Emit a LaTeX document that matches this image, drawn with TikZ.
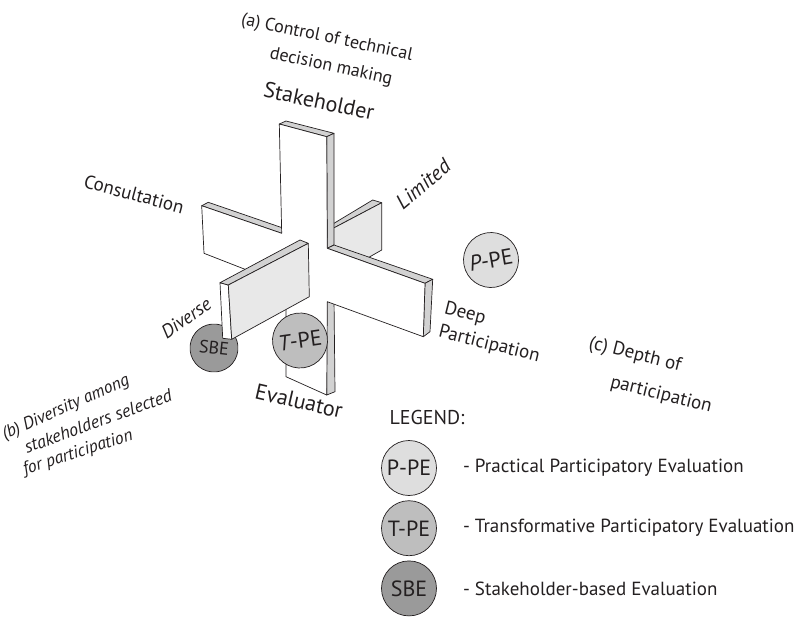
\documentclass[tikz,border=0pt]{standalone}
\usepackage{fontspec}
\setmainfont{PT Sans}
\usetikzlibrary{positioning}

\definecolor{ppefill}{HTML}{DEDEDE}
\definecolor{tpefill}{HTML}{BEBEBE}
\definecolor{sbefill}{HTML}{9A9A9A}
\definecolor{inkgray}{HTML}{231F20}

\tikzset{
  face/.style={draw=inkgray, line width=0.7pt, fill=white},
  edgeface/.style={face, fill=gray!35},
  sideface/.style={face, fill=gray!18},
  axislbl/.style={font=\fontsize{19}{24}\selectfont, text=inkgray, inner sep=0pt},
  axisit/.style={axislbl, font=\fontsize{19}{24}\selectfont\itshape},
  notelbl/.style={axislbl, font=\fontsize{17.5}{22}\selectfont\itshape},
  evalcirc/.style={circle, draw=inkgray, line width=0.7pt, inner sep=0pt,
    minimum size=55pt, text=inkgray, font=\fontsize{22}{24}\selectfont},
  legtext/.style={font=\fontsize{19}{22}\selectfont, text=inkgray, inner sep=0pt}
}

\begin{document}
\begin{tikzpicture}[x=1pt,y=-1pt,line cap=round,line join=round]
  \useasboundingbox (0,0) rectangle (797,630);

  %--- Limited plank, behind the cross -------------------------------------
  \draw[edgeface] (328,226.9) -- (372.7,200) -- (381.7,202.7) -- (328,231) -- cycle;
  \draw[sideface] (328,231) -- (381.7,202.7) -- (381.7,250) -- (328,280.6) -- cycle;

  %--- Cross: thickness faces ----------------------------------------------
  \draw[edgeface] (279.3,124) -- (286,121) -- (334,133.3) -- (326.7,136.7) -- cycle;
  \draw[edgeface] (326.7,136.7) -- (334,133.3) -- (334,245) -- (327.3,248.3) -- cycle;
  \draw[edgeface] (201.7,205.7) -- (208.3,202.3) -- (288.7,230) -- (281.7,233.3) -- cycle;
  \draw[edgeface] (327.3,248.3) -- (334,245) -- (432.7,279.3) -- (425,283.3) -- cycle;
  \draw[edgeface] (425,283.3) -- (432.7,279.3) -- (430,331.7) -- (423.3,336.7) -- cycle;
  \draw[edgeface] (326.7,301.7) -- (334,298) -- (335,391.7) -- (326.7,395) -- cycle;

  %--- Cross: front face ---------------------------------------------------
  \draw[face] (279.3,124) -- (326.7,136.7) -- (327.3,248.3) -- (425,283.3)
    -- (423.3,336.7) -- (327.3,301.7) -- (326.7,395) -- (286,376.7)
    -- (286,285.3) -- (204,253.3) -- (201.7,205.7) -- (281.7,233.3) -- cycle;

  %--- SBE sits behind the diverse plank -----------------------------------
  \node[evalcirc, fill=sbefill, minimum size=48pt, rotate=-6,
    font=\fontsize{18}{22}\selectfont] (sbe) at (214,348) {SBE};

  %--- Diverse plank, in front of the cross --------------------------------
  \draw[face] (220,282.7) -- (228.3,285) -- (231.7,339.3) -- (222.7,338.3) -- cycle;
  \draw[edgeface] (220,282.7) -- (300,240) -- (308.3,243.3) -- (228.3,285) -- cycle;
  \draw[sideface] (228.3,285) -- (308.3,243.3) -- (309.3,296.7) -- (231.7,339.3) -- cycle;

  %--- Other evaluation types ----------------------------------------------
  \node[evalcirc, fill=tpefill, rotate=8] (tpe) at (300,340.5) {{\itshape T}-PE};
  \node[evalcirc, fill=ppefill, rotate=10] (ppe) at (491,260) {{\itshape P}-PE};

  %--- Axis labels ---------------------------------------------------------
  \node[axislbl, font=\fontsize{18}{22}\selectfont, rotate=-12] (ctrl) at (327,38)
    {(a) Control of technical};
  \node[axislbl, font=\fontsize{18}{22}\selectfont, rotate=-12] (ctrlb) at (331,67)
    {decision making};
  \node[axislbl, font=\fontsize{22}{24}\selectfont, rotate=-12] (stake) at (319,101) {Stakeholder};
  \node[axislbl, rotate=-15] (consult) at (134,194) {Consultation};
  \node[axisit, font=\fontsize{21}{24}\selectfont\itshape, rotate=40] (limited) at (423,184) {Limited};
  \node[axislbl, rotate=-14, align=left] (deep) at (492,333) {Deep\\Participation};
  \node[axislbl, rotate=-14] (depth) at (635,355) {(c) Depth of};
  \node[axislbl, rotate=-14] (depthb) at (661,395) {participation};
  \node[axislbl, font=\fontsize{22}{24}\selectfont, rotate=-13] (eval) at (299,401) {Evaluator};
  \node[axisit, rotate=35] (diverse) at (186,318) {Diverse};
  \node[notelbl, rotate=24] (diversity) at (66,408) {(b) Diversity among};
  \node[notelbl, font=\fontsize{18}{22}\selectfont\itshape, rotate=20] (diversityb) at (98,421)
    {stakeholders selected};
  \node[notelbl, rotate=18] (diversityc) at (78,453) {for participation};

  %--- Legend --------------------------------------------------------------
  \node[legtext, font=\fontsize{20}{22}\selectfont] (legend) at (427,417) {LEGEND:};
  \node[evalcirc, fill=ppefill] (lppe) at (409,468) {P-PE};
  \node[evalcirc, fill=tpefill, below=4.5pt of lppe] (ltpe) {T-PE};
  \node[evalcirc, fill=sbefill, below=4.5pt of ltpe] (lsbe) {SBE};
  \node[legtext, right=26pt of lppe] (lppetxt) {- Practical Participatory Evaluation};
  \node[legtext, right=26pt of ltpe] (ltpetxt) {- Transformative Participatory Evaluation};
  \node[legtext, right=26pt of lsbe] (lsbetxt) {- Stakeholder-based Evaluation};
\end{tikzpicture}
\end{document}
